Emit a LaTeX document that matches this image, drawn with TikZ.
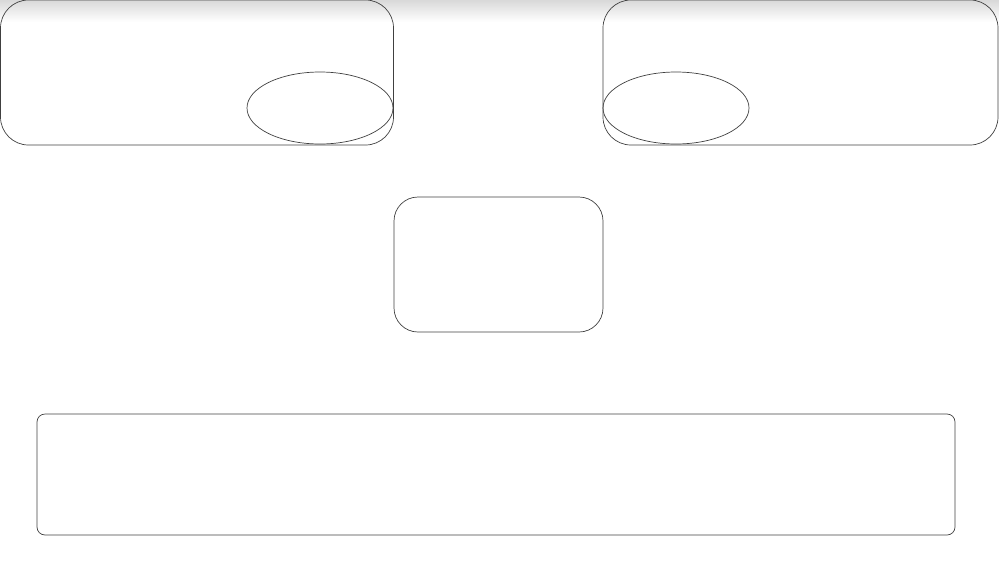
\documentclass[tikz,border=0pt]{standalone}
\usetikzlibrary{shapes.geometric}
\begin{document}
\begin{tikzpicture}[x=1pt,y=-1pt,
  outline/.style={draw=black!75,line width=0.7pt},
  bigbox/.style={outline,rectangle,inner sep=0pt,outer sep=0pt,rounded corners=28pt,minimum width=393pt,minimum height=145pt},
  midbox/.style={outline,rectangle,inner sep=0pt,outer sep=0pt,rounded corners=24pt,minimum width=209pt,minimum height=135pt},
  widebox/.style={outline,rectangle,inner sep=0pt,outer sep=0pt,rounded corners=8pt,minimum width=918pt,minimum height=121pt},
  oval/.style={outline,ellipse,inner sep=0pt,outer sep=0pt,minimum width=146pt,minimum height=72pt}]
\useasboundingbox (0,0) rectangle (999,560);
\shade[top color=black!15,bottom color=white] (0,0) rectangle (999,22);
\node[bigbox] (left) at (197,72.5) {};
\node[bigbox,minimum width=395pt] (right) at (800.5,72.5) {};
\node[oval] (lefto) at (320,108) {};
\node[oval] (righto) at (676,108) {};
\node[midbox] (mid) at (498.5,264.5) {};
\node[widebox] (bottom) at (496,474.5) {};
\end{tikzpicture}
\end{document}
